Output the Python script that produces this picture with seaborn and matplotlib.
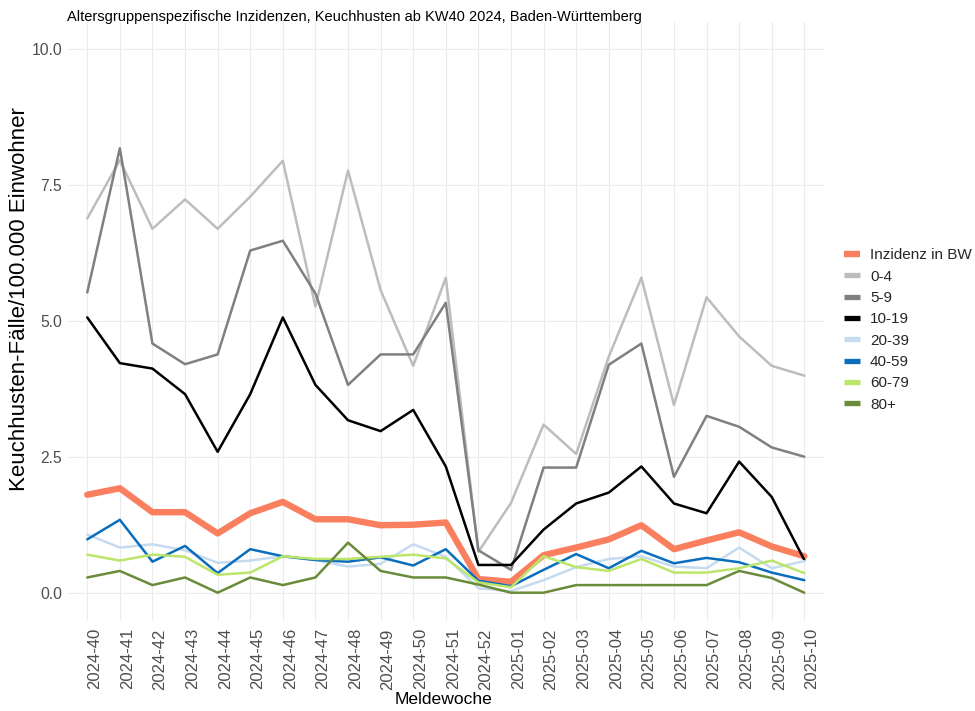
import matplotlib
matplotlib.use("Agg")
import matplotlib.pyplot as plt
from matplotlib.lines import Line2D
import seaborn as sns
import pandas as pd

weeks = ['2024-40', '2024-41', '2024-42', '2024-43', '2024-44', '2024-45', '2024-46',
         '2024-47', '2024-48', '2024-49', '2024-50', '2024-51', '2024-52',
         '2025-01', '2025-02', '2025-03', '2025-04', '2025-05', '2025-06',
         '2025-07', '2025-08', '2025-09', '2025-10']

inzidenz_bw = [1.80, 1.92, 1.48, 1.48, 1.09, 1.46, 1.67, 1.35, 1.35, 1.24, 1.25, 1.29,
               0.25, 0.20, 0.69, 0.83, 0.98, 1.24, 0.80, 0.96, 1.11, 0.85, 0.67]
g0_4 = [6.88, 7.95, 6.69, 7.23, 6.69, 7.28, 7.94, 5.26, 7.76, 5.56, 4.17, 5.79,
        0.75, 1.65, 3.09, 2.55, 4.34, 5.79, 3.45, 5.43, 4.71, 4.17, 3.99]
g5_9 = [5.52, 8.17, 4.58, 4.20, 4.38, 6.29, 6.47, 5.50, 3.82, 4.38, 4.38, 5.33,
        0.78, 0.42, 2.30, 2.30, 4.19, 4.58, 2.13, 3.25, 3.05, 2.67, 2.50]
g10_19 = [5.06, 4.22, 4.12, 3.65, 2.59, 3.65, 5.06, 3.82, 3.17, 2.97, 3.36, 2.32,
          0.51, 0.51, 1.16, 1.64, 1.84, 2.32, 1.64, 1.46, 2.41, 1.76, 0.60]
g20_39 = [1.07, 0.83, 0.89, 0.78, 0.55, 0.59, 0.67, 0.60, 0.48, 0.53, 0.89, 0.66,
          0.08, 0.03, 0.23, 0.47, 0.62, 0.67, 0.48, 0.45, 0.83, 0.45, 0.58]
g40_59 = [0.98, 1.34, 0.57, 0.86, 0.36, 0.80, 0.67, 0.60, 0.57, 0.65, 0.50, 0.80,
          0.22, 0.12, 0.42, 0.71, 0.45, 0.77, 0.54, 0.64, 0.56, 0.37, 0.23]
g60_79 = [0.70, 0.59, 0.70, 0.66, 0.33, 0.37, 0.67, 0.62, 0.62, 0.66, 0.70, 0.63,
          0.19, 0.10, 0.67, 0.47, 0.40, 0.62, 0.37, 0.37, 0.45, 0.59, 0.36]
g80 = [0.28, 0.40, 0.14, 0.28, 0.00, 0.28, 0.14, 0.28, 0.92, 0.40, 0.28, 0.28,
       0.15, 0.00, 0.00, 0.14, 0.14, 0.14, 0.14, 0.14, 0.40, 0.27, 0.00]

labels = ['Inzidenz in BW', '0-4', '5-9', '10-19', '20-39', '40-59', '60-79', '80+']
series = [inzidenz_bw, g0_4, g5_9, g10_19, g20_39, g40_59, g60_79, g80]
colors = ['#FA7F5E', '#BDBDBD', '#808080', '#000000', '#C6DBEF', '#0A6EBD', '#BCE56B', '#6A8B3A']
widths = [4.6, 1.8, 1.8, 1.8, 1.8, 1.8, 1.8, 1.8]

sns.set_theme(style="white")
plt.rcParams['font.family'] = ['Liberation Sans', 'DejaVu Sans']

fig = plt.figure(figsize=(9.75, 7.11), dpi=100)
ax = fig.add_axes([67.7 / 975, 1 - 619.9 / 711, (823.9 - 67.7) / 975, (619.9 - 21.5) / 711])

for lab, vals, col, lw in zip(labels, series, colors, widths):
    df = pd.DataFrame({'Meldewoche': weeks, 'wert': vals})
    sns.lineplot(data=df, x='Meldewoche', y='wert', ax=ax, color=col, linewidth=lw,
                 sort=False, legend=False)

ax.set_xlim(-0.6, len(weeks) - 1 + 0.6)
ax.set_ylim(-0.5, 10.5)
ax.set_yticks([0, 2.5, 5, 7.5, 10])
ax.set_yticklabels(['0.0', '2.5', '5.0', '7.5', '10.0'])
ax.set_xticks(range(len(weeks)))
ax.set_xticklabels(weeks, rotation=90, ha='left', va='top')
ax.tick_params(axis='x', labelsize=12, colors='#4D4D4D', length=0, pad=6)
ax.tick_params(axis='y', labelsize=11.3, colors='#4D4D4D', length=0, pad=4)
ax.grid(True, color='#EBEBEB', linewidth=0.8)
ax.set_axisbelow(True)
for s in ax.spines.values():
    s.set_visible(False)

ax.set_xlabel('Meldewoche', fontsize=12.6, color='black')
ax.xaxis.set_label_coords((444 - 67.7) / (823.9 - 67.7), -(700 - 619.9) / (619.9 - 21.5))
ax.xaxis.label.set_va('center')
ax.set_ylabel('Keuchhusten-Fälle/100.000 Einwohner', fontsize=16, color='black')
ax.yaxis.set_label_coords(-(67.7 - 20) / (823.9 - 67.7), (619.9 - 299) / (619.9 - 21.5))
ax.yaxis.label.set_va('center')

fig.text(67 / 975, 1 - 17 / 711, 'Altersgruppenspezifische Inzidenzen, Keuchhusten ab KW40 2024, Baden-Württemberg',
         fontsize=10.5, color='black', ha='left', va='center')

handles = [Line2D([0], [0], color=c, lw=(4.6 if i == 0 else 3.8), solid_capstyle='butt')
           for i, c in enumerate(colors)]
leg = fig.legend(handles, labels, loc='center left', bbox_to_anchor=(844 / 975, 1 - 330 / 711),
                 frameon=False, fontsize=11, handlelength=1.05, handletextpad=0.65,
                 labelspacing=0.48, borderpad=0, borderaxespad=0)

fig.savefig('out.png', dpi=100)
